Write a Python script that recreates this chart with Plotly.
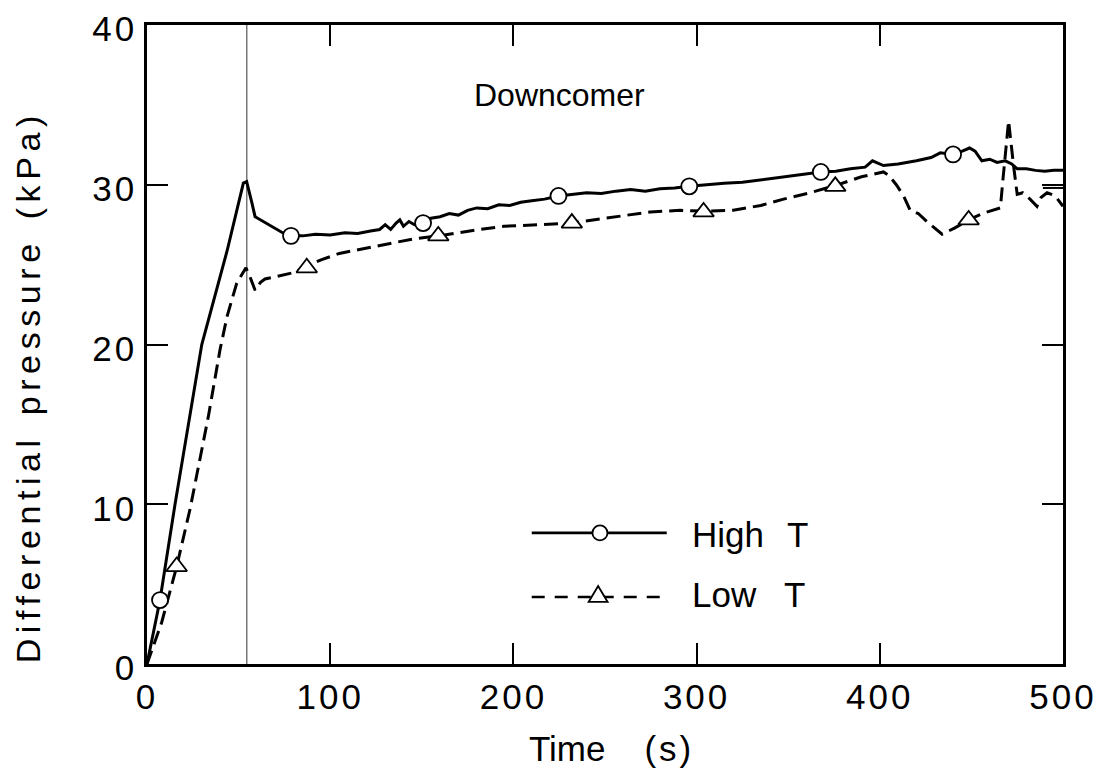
import plotly.graph_objects as go

# ---------------- data ----------------
high_t_time = [0, 7.1, 15.3, 29.9, 43.8, 52.6, 54.4, 55.5, 57.2, 59, 63.5, 69, 74, 78.6, 85, 92,
               100, 108, 115, 122, 127, 130, 133, 136, 138, 140, 143, 146, 150.7, 155, 160, 165,
               170, 175, 180, 186, 192, 198, 204, 210, 217, 224.6, 232, 240, 248, 256, 264, 272,
               280, 288, 296, 305, 315, 325, 335, 345, 355, 367.8, 376, 384, 392, 396, 402, 410,
               420, 428, 433, 440, 445, 449, 452, 455.7, 460, 464, 468.5, 472, 475, 480, 485, 490,
               495, 500]
high_t_dp = [0, 4.0, 10, 20, 25.9, 30.1, 30.2, 29.6, 28.9, 28.0, 27.7, 27.3, 27.0, 26.8, 26.8, 26.9,
             26.85, 27.0, 26.95, 27.1, 27.2, 27.5, 27.2, 27.6, 27.8, 27.4, 27.7, 27.5, 27.6, 27.9, 28.0, 28.2,
             28.1, 28.4, 28.55, 28.5, 28.75, 28.7, 28.9, 29.0, 29.1, 29.3, 29.4, 29.5, 29.45, 29.6, 29.7, 29.6,
             29.75, 29.8, 29.9, 30.0, 30.1, 30.15, 30.3, 30.45, 30.6, 30.8, 30.85, 31.0, 31.1, 31.5, 31.2, 31.3,
             31.5, 31.7, 32.0, 31.9, 32.1, 32.3, 32.1, 31.5, 31.6, 31.4, 31.5, 31.3, 31.0, 31.0, 30.9, 30.85,
             30.9, 30.9]

low_t_time = [0, 8, 16.2, 23.5, 33.5, 39.9, 43.8, 49, 54, 56, 59, 62, 64.4, 72.6, 80, 87.2, 95, 105,
              118, 130, 145, 159, 170, 181.8, 195, 210, 231.9, 250, 274.7, 291, 303.8, 320, 335,
              347.5, 362, 375.7, 390, 402, 404.8, 409, 413, 416.6, 421, 425.7, 430, 434, 441, 448.5,
              456, 465.8, 467.2, 470.3, 473, 475, 478, 482, 485.8, 488, 491.3, 495.8, 500]
low_t_dp = [0, 2.6, 6.1, 9.7, 15.5, 19.7, 21.8, 23.85, 24.8, 24.3, 23.4, 23.9, 24.1, 24.3, 24.5, 24.9, 25.3, 25.7,
            26.0, 26.3, 26.6, 26.8, 27.0, 27.2, 27.4, 27.5, 27.6, 27.9, 28.3, 28.4, 28.35, 28.4, 28.7,
            29.1, 29.5, 29.95, 30.5, 30.8, 30.6, 30.0, 29.3, 28.4, 28.2, 27.7, 27.3, 26.9, 27.3, 27.8,
            28.2, 28.55, 30.3, 34.0, 31.2, 29.4, 29.5, 29.1, 28.65, 29.2, 29.5, 29.3, 28.65]

# symbol positions
high_t_marker_time = [7.1, 78.6, 150.7, 224.6, 296, 367.8, 440]
high_t_marker_dp = [4.0, 26.8, 27.6, 29.3, 29.9, 30.8, 31.9]
low_t_marker_time = [16.2, 87.2, 159, 231.9, 303.8, 375.7, 448.5]
low_t_marker_dp = [6.1, 24.8, 26.8, 27.6, 28.3, 29.9, 27.8]

# short stray segment near right edge
stray_time = [489, 500]
stray_dp = [29.8, 29.8]

event_time = 54.5   # thin vertical reference line

x_tick_vals = [0, 100, 200, 300, 400, 500]
y_tick_vals = [0, 10, 20, 30, 40]

FONT = "Liberation Sans, Arial, sans-serif"


def spaced(text, px):
    return "<span style='letter-spacing:%spx'>%s</span>" % (px, text)


fig = go.Figure()

fig.add_trace(go.Scatter(x=high_t_time, y=high_t_dp, mode="lines",
                         line=dict(color="black", width=3), showlegend=False, hoverinfo="skip"))
fig.add_trace(go.Scatter(x=low_t_time, y=low_t_dp, mode="lines",
                         line=dict(color="black", width=3, dash="14px,7px"),
                         showlegend=False, hoverinfo="skip"))
fig.add_trace(go.Scatter(x=stray_time, y=stray_dp, mode="lines",
                         line=dict(color="black", width=2), showlegend=False, hoverinfo="skip"))
fig.add_trace(go.Scatter(x=high_t_marker_time, y=high_t_marker_dp, mode="markers",
                         marker=dict(symbol="circle", size=16, color="white",
                                     line=dict(color="black", width=1.8)),
                         showlegend=False))
fig.add_trace(go.Scatter(x=low_t_marker_time, y=low_t_marker_dp, mode="markers",
                         marker=dict(symbol="triangle-up", size=18, color="white",
                                     line=dict(color="black", width=1.8)),
                         showlegend=False))

# vertical event line
fig.add_shape(type="line", xref="x", yref="paper", x0=event_time, x1=event_time, y0=0, y1=1,
              line=dict(color="#333333", width=1), layer="below")

# ---------------- manual legend ----------------
leg_x0, leg_x1, leg_xm = 0.420, 0.5674, 0.4945
leg_y_high, leg_y_low = 0.2052, 0.1049
fig.add_shape(type="line", xref="paper", yref="paper", x0=leg_x0, x1=leg_x1,
              y0=leg_y_high, y1=leg_y_high, line=dict(color="black", width=2.6))
fig.add_shape(type="line", xref="paper", yref="paper", x0=leg_x0, x1=leg_x1,
              y0=leg_y_low, y1=leg_y_low, line=dict(color="black", width=2.6, dash="13px,10px"))
fig.add_shape(type="circle", xref="paper", yref="paper", xsizemode="pixel", ysizemode="pixel",
              xanchor=leg_xm, yanchor=leg_y_high, x0=-7.5, x1=7.5, y0=-7.5, y1=7.5,
              fillcolor="white", line=dict(color="black", width=1.8), layer="above")
fig.add_shape(type="path", xref="paper", yref="paper", xsizemode="pixel", ysizemode="pixel",
              xanchor=leg_xm - 0.002, yanchor=leg_y_low,
              path="M -9.5,-5 L 9.5,-5 L 0,11 Z",
              fillcolor="white", line=dict(color="black", width=1.8), layer="above")

leg_font = dict(family=FONT, size=35, color="black")
fig.add_annotation(x=0.5931, y=0.2021, xref="paper", yref="paper", xanchor="left", yanchor="middle",
                   text="High", showarrow=False, font=leg_font)
fig.add_annotation(x=0.6965, y=0.2021, xref="paper", yref="paper", xanchor="left", yanchor="middle",
                   text="T", showarrow=False, font=leg_font)
fig.add_annotation(x=0.5931, y=0.1081, xref="paper", yref="paper", xanchor="left", yanchor="middle",
                   text="Low", showarrow=False, font=leg_font)
fig.add_annotation(x=0.6928, y=0.1081, xref="paper", yref="paper", xanchor="left", yanchor="middle",
                   text="T", showarrow=False, font=leg_font)

# ---------------- texts ----------------
fig.add_annotation(x=0.3545, y=0.891, xref="paper", yref="paper", xanchor="left", yanchor="middle",
                   text="Downcomer", showarrow=False,
                   font=dict(family=FONT, size=32, color="black"))
fig.add_annotation(x=0.4148, y=-0.133, xref="paper", yref="paper", xanchor="left", yanchor="middle",
                   text="Time" + "&nbsp;&nbsp;&nbsp;&nbsp;" + spaced("(s)", 3), showarrow=False,
                   font=dict(family=FONT, size=35, color="black"))
fig.add_annotation(x=-0.1299, y=0.433, xref="paper", yref="paper", xanchor="center", yanchor="middle",
                   textangle=-90,
                   text=spaced("Differential", 5.6) + "&nbsp;&nbsp;" + spaced("pressure", 5.6)
                   + "&nbsp;&nbsp;" + spaced("(kPa)", 5.6),
                   showarrow=False, font=dict(family=FONT, size=34, color="black"))

axis_common = dict(showgrid=False, zeroline=False, showline=True, linecolor="black", linewidth=2.5,
                   mirror="ticks", ticks="inside", ticklen=21, tickwidth=1.5, tickcolor="black",
                   automargin=False, ticklabeloverflow="allow",
                   tickfont=dict(family=FONT, size=35, color="black"))

fig.update_xaxes(range=[0, 500], tickvals=x_tick_vals,
                 ticktext=[spaced(str(v), 3) for v in x_tick_vals], **axis_common)
fig.update_yaxes(range=[0, 40], tickvals=y_tick_vals, ticklabelshift=4,
                 ticktext=[spaced(str(v), 3) for v in y_tick_vals], **axis_common)

fig.update_layout(width=1102, height=772, paper_bgcolor="white", plot_bgcolor="white",
                  margin=dict(l=139, r=47, t=17, b=116), showlegend=False)

fig.write_html("out.html")
